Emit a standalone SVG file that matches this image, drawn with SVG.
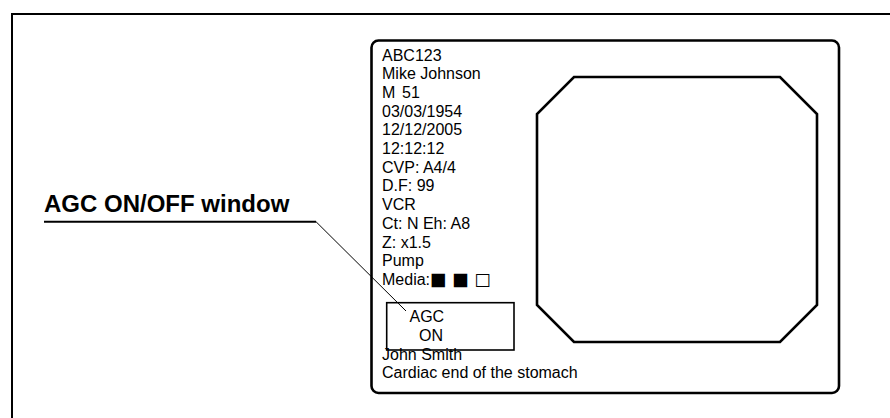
<svg xmlns="http://www.w3.org/2000/svg" width="890" height="418" viewBox="0 0 890 418">
<style>
.t{font-family:"Liberation Sans",Arial,sans-serif;font-size:16px;fill:#000}
.h{font-family:"Liberation Sans",Arial,sans-serif;font-size:24px;font-weight:bold;fill:#000}
.ln{fill:none;stroke:#000}
</style>
<rect width="890" height="418" fill="#fff"/>
<rect id="frame" x="12" y="14" width="900" height="430" class="ln" stroke-width="2"/>
<g id="monitor">
<rect x="371.5" y="40.5" width="467.5" height="352.5" rx="7" class="ln" stroke-width="2.6"/>
<polygon points="574,77 780,77 817,114 817,305 780,342 574,342 537,305 537,114" class="ln" stroke-width="2.6"/>
</g>
<g id="info">
<text class="t" x="382" y="60.5">ABC123</text>
<text class="t" x="382" y="79.2">Mike Johnson</text>
<text class="t" x="382" y="97.9">M<tspan x="402">51</tspan></text>
<text class="t" x="382" y="116.6">03/03/1954</text>
<text class="t" x="382" y="135.3">12/12/2005</text>
<text class="t" x="382" y="154">12:12:12</text>
<text class="t" x="382" y="172.7">CVP: A4/4</text>
<text class="t" x="382" y="191.4">D.F: 99</text>
<text class="t" x="382" y="210.1">VCR</text>
<text class="t" x="382" y="228.8">Ct: N Eh: A8</text>
<text class="t" x="382" y="247.5">Z: x1.5</text>
<text class="t" x="382" y="266.2">Pump</text>
<text class="t" x="382" y="284.9">Media:<tspan font-family="'DejaVu Sans',sans-serif" font-size="17.5">■ ■ □</tspan></text>
<text class="t" x="382" y="359.7">John Smith</text>
<text class="t" x="382" y="378.4">Cardiac end of the stomach</text>
</g>
<g id="agc">
<rect x="386.7" y="302.7" width="127.3" height="47.3" class="ln" stroke-width="1.6"/>
<text class="t" x="409.5" y="322.3">AGC</text>
<text class="t" x="419" y="341">ON</text>
</g>
<g id="label">
<text class="h" x="44" y="211.5">AGC ON/OFF window</text>
</g>
<g id="connectors">
<polyline points="44,221.7 316,221.7" class="ln" stroke-width="2"/>
<polyline points="316,221.7 406,311" class="ln" stroke-width="1"/>
</g>
</svg>
